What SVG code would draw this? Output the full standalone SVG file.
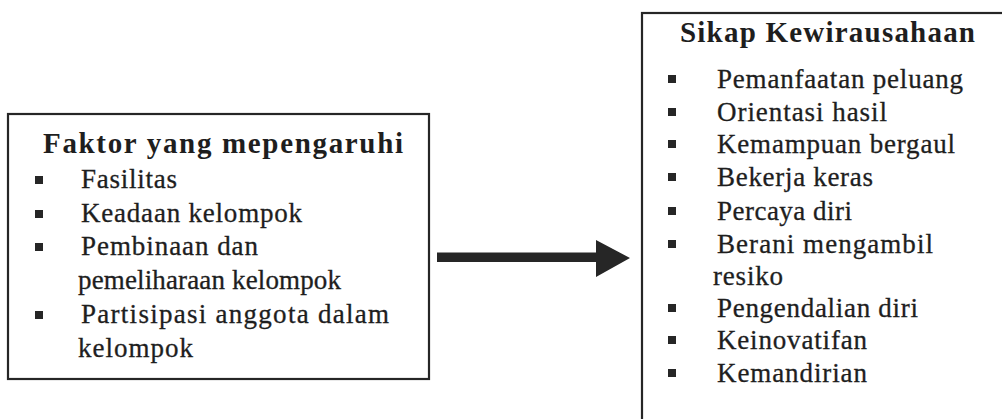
<svg xmlns="http://www.w3.org/2000/svg" width="1002" height="419" viewBox="0 0 1002 419">
<style>
.box{fill:none;stroke:#262626;stroke-width:2.2}
.t{font-family:'Liberation Serif','Times New Roman',serif;font-size:27px;fill:#1e1e1e;stroke:#1e1e1e;stroke-width:0.3}
.h{font-family:'Liberation Serif','Times New Roman',serif;font-size:29px;font-weight:bold;fill:#1e1e1e}
.b{fill:#262626}
</style>
<rect width="1002" height="419" fill="#fff"/>
<g id="node-faktor">
<rect class="box" x="8" y="114" width="421" height="265"/>
<text class="h" x="43" y="153" textLength="360" lengthAdjust="spacing">Faktor yang mepengaruhi</text>
<rect class="b" x="35" y="176" width="8" height="8"/>
<text class="t" x="81" y="188" textLength="96" lengthAdjust="spacing">Fasilitas</text>
<rect class="b" x="35" y="210" width="8" height="8"/>
<text class="t" x="81" y="222" textLength="221" lengthAdjust="spacing">Keadaan kelompok</text>
<rect class="b" x="35" y="243" width="8" height="8"/>
<text class="t" x="81" y="255" textLength="177" lengthAdjust="spacing">Pembinaan dan</text>
<text class="t" x="78" y="289" textLength="263" lengthAdjust="spacing">pemeliharaan kelompok</text>
<rect class="b" x="35" y="311" width="8" height="8"/>
<text class="t" x="81" y="323" textLength="308" lengthAdjust="spacing">Partisipasi anggota dalam</text>
<text class="t" x="78" y="357" textLength="115" lengthAdjust="spacing">kelompok</text>
</g>
<g id="node-sikap">
<rect class="box" x="642" y="13" width="400" height="450"/>
<text class="h" x="680" y="42" textLength="295" lengthAdjust="spacing">Sikap Kewirausahaan</text>
<rect class="b" x="668" y="75" width="8" height="8"/>
<text class="t" x="717" y="88" textLength="246" lengthAdjust="spacing">Pemanfaatan peluang</text>
<rect class="b" x="668" y="108" width="8" height="8"/>
<text class="t" x="717" y="121" textLength="170" lengthAdjust="spacing">Orientasi hasil</text>
<rect class="b" x="668" y="140" width="8" height="8"/>
<text class="t" x="717" y="153" textLength="238" lengthAdjust="spacing">Kemampuan bergaul</text>
<rect class="b" x="668" y="173" width="8" height="8"/>
<text class="t" x="717" y="186" textLength="156" lengthAdjust="spacing">Bekerja keras</text>
<rect class="b" x="668" y="207" width="8" height="8"/>
<text class="t" x="717" y="220" textLength="135" lengthAdjust="spacing">Percaya diri</text>
<rect class="b" x="668" y="240" width="8" height="8"/>
<text class="t" x="717" y="253" textLength="216" lengthAdjust="spacing">Berani mengambil</text>
<text class="t" x="713" y="285" textLength="70" lengthAdjust="spacing">resiko</text>
<rect class="b" x="668" y="304" width="8" height="8"/>
<text class="t" x="717" y="317" textLength="201" lengthAdjust="spacing">Pengendalian diri</text>
<rect class="b" x="668" y="336" width="8" height="8"/>
<text class="t" x="717" y="349" textLength="150" lengthAdjust="spacing">Keinovatifan</text>
<rect class="b" x="668" y="369" width="8" height="8"/>
<text class="t" x="717" y="382" textLength="150" lengthAdjust="spacing">Kemandirian</text>
</g>
<g id="connectors">
<path d="M437 252.5 H596 V240 L630 258 L596 277 V262 H437 Z" fill="#262626"/>
</g>
</svg>
